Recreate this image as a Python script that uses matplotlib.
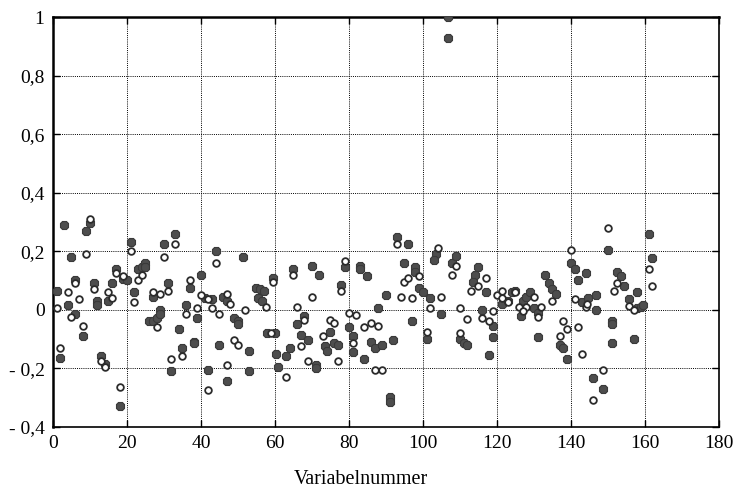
import matplotlib.pyplot as plt
from matplotlib.ticker import FixedLocator

# Variablennummer und Wert, gefüllte Marker
stern_x = [1, 2, 3, 4, 5, 6, 6, 8, 9, 10, 11, 12, 12, 13, 14, 15, 16, 17, 18, 19,
           20, 21, 22, 23, 24, 25, 25, 26, 27, 27, 28, 29, 29, 30, 31, 32, 33, 34, 35, 36,
           37, 38, 38, 39, 40, 41, 42, 43, 44, 45, 46, 47, 47, 49, 50, 50, 51.5, 53, 53, 55,
           56, 57, 55.5, 56.5, 58, 60, 59.5, 60.3, 60.8, 63, 64, 65, 66, 67, 68, 69, 70, 71, 71, 72,
           73.5, 74, 75, 76, 77, 78, 79, 80, 81, 81, 83, 83, 85, 84, 86, 87, 88, 89, 90, 91,
           91, 92, 93, 95, 96, 97, 98, 98, 99, 100, 101, 102, 103.5, 103, 105, 106.8, 106.8, 108, 109, 110,
           111, 112, 115, 114, 113.5, 117, 116, 119, 119, 118, 121.5, 123, 124, 125, 127, 128, 129, 126.5, 130, 131,
           131, 133, 134, 135, 136, 137, 138, 139, 140, 141, 142, 144, 143, 144.7, 146.7, 146.7, 146, 148.6, 150, 151,
           151, 151, 152.5, 153.5, 154.5, 155.7, 158, 159, 159.5, 157, 158, 161, 162]
stern_y = [0.065, -0.165, 0.29, 0.015, 0.18, -0.015, 0.10, -0.09, 0.27, 0.295, 0.09, 0.03, 0.015, -0.16, -0.185, 0.03, 0.09, 0.14, -0.33, 0.105,
           0.10, 0.23, 0.06, 0.14, 0.145, 0.16, 0.145, -0.04, -0.04, 0.045, -0.03, 0.0, -0.015, 0.225, 0.09, -0.21, 0.26, -0.065, -0.13, 0.015,
           0.075, -0.11, -0.115, -0.03, 0.12, 0.04, -0.205, 0.035, 0.20, -0.12, 0.045, 0.03, -0.245, -0.03, -0.04, -0.05, 0.18, -0.14, -0.21, 0.075,
           0.07, 0.065, 0.04, 0.03, -0.08, -0.08, 0.11, -0.15, -0.195, -0.16, -0.13, 0.14, -0.05, -0.085, -0.02, -0.105, 0.15, -0.19, -0.20, 0.12,
           -0.125, -0.14, -0.075, -0.115, -0.12, 0.085, 0.145, -0.06, -0.09, -0.145, 0.15, 0.14, 0.115, -0.17, -0.11, -0.13, 0.005, -0.12, 0.05, -0.30,
           -0.315, -0.105, 0.25, 0.16, 0.225, -0.04, 0.145, 0.13, 0.075, 0.06, -0.10, 0.04, 0.19, 0.17, -0.015, 1.0, 0.93, 0.16, 0.185, -0.10,
           -0.115, -0.12, 0.145, 0.12, 0.095, 0.06, 0.0, -0.055, -0.095, -0.155, 0.02, 0.03, 0.06, 0.065, 0.03, 0.045, 0.06, -0.02, 0.005, -0.01,
           -0.095, 0.12, 0.09, 0.07, 0.055, -0.12, -0.13, -0.17, 0.16, 0.14, 0.10, 0.125, 0.025, 0.04, 0.05, 0.0, -0.235, -0.27, 0.205, -0.04,
           -0.05, -0.115, 0.13, 0.115, 0.08, 0.035, 0.005, 0.01, 0.015, -0.10, 0.06, 0.26, 0.175]

# Variablennummer und Wert, offene Kreise
kreis_x = [1, 2, 4, 5, 6, 7, 8, 9, 10, 11, 13, 14, 15, 16, 17, 18, 19, 21, 22, 23,
           24, 27, 28, 29, 30, 31, 32, 33, 35, 36, 37, 39, 40, 42, 43, 42, 44, 45, 47, 48,
           47, 49, 50, 52, 57.5, 59, 59.5, 63, 65, 66, 67, 68, 69, 70, 73, 75, 76, 77, 78, 79,
           80, 82, 81, 84, 86, 87, 89, 88, 93, 94, 95, 96, 97, 99, 101, 102, 104, 105, 108, 109,
           110, 110, 112, 113, 115, 117, 116, 118, 119, 120, 121.5, 121.5, 123, 125, 126, 128, 130, 127, 132, 131,
           135, 138, 139, 137, 140, 141, 144, 144.5, 142, 143, 146, 148.6, 150, 151.6, 152.5, 155.7, 157, 161, 162]
kreis_y = [0.005, -0.13, 0.06, -0.025, 0.09, 0.035, -0.055, 0.19, 0.31, 0.07, -0.175, -0.195, 0.06, 0.04, 0.125, -0.265, 0.115, 0.20, 0.025, 0.10,
           0.12, 0.06, -0.06, 0.055, 0.18, 0.065, -0.17, 0.225, -0.16, -0.015, 0.10, 0.005, 0.05, 0.035, 0.005, -0.275, 0.16, -0.015, 0.055, 0.02,
           -0.19, -0.105, -0.12, 0.0, 0.01, -0.08, 0.095, -0.23, 0.12, 0.01, -0.125, -0.035, -0.175, 0.045, -0.09, -0.035, -0.045, -0.175, 0.065, 0.165,
           -0.013, -0.017, -0.115, -0.06, -0.047, -0.205, -0.205, -0.055, 0.225, 0.045, 0.095, 0.107, 0.04, 0.115, -0.075, 0.005, 0.21, 0.045, 0.12, 0.15,
           0.005, -0.08, -0.033, 0.063, 0.08, 0.11, -0.03, -0.04, -0.003, 0.05, 0.065, 0.04, 0.025, 0.06, 0.01, 0.01, 0.045, -0.005, 0.01, -0.025,
           0.03, -0.04, -0.065, -0.09, 0.205, 0.035, 0.01, 0.02, -0.06, -0.15, -0.31, -0.205, 0.28, 0.065, 0.09, 0.012, 0.0, 0.14, 0.08]

x_ticks = [0, 20, 40, 60, 80, 100, 120, 140, 160, 180]
y_ticks = [-0.4, -0.2, 0, 0.2, 0.4, 0.6, 0.8, 1]
y_labels = ['- 0,4', '- 0,2', '0', '0,2', '0,4', '0,6', '0,8', '1']

plt.rcParams['font.family'] = ['Liberation Serif', 'DejaVu Serif']

fig = plt.figure(figsize=(7.35, 4.91), dpi=100)
ax = fig.add_axes([0.072, 0.131, 0.906, 0.834])

ax.plot(stern_x, stern_y, linestyle='none', marker='8', ms=6.4,
        mfc='#4d4d4d', mec='#3a3a3a', mew=0.8, zorder=3)
ax.plot(kreis_x, kreis_y, linestyle='none', marker='o', ms=4.8,
        mfc='white', mec='#2b2b2b', mew=1.3, zorder=4)

ax.set_xlim(0, 180)
ax.set_ylim(-0.4, 1)
ax.xaxis.set_major_locator(FixedLocator(x_ticks))
ax.set_yticks(y_ticks)
ax.set_yticklabels(y_labels)
ax.grid(True, color='black', linestyle=(0, (1, 1.2)), linewidth=0.7)
ax.set_axisbelow(True)

ax.tick_params(direction='in', length=5, width=1, labelsize=14,
               top=True, right=True, colors='black', pad=6)
for side in ['left', 'top']:
    ax.spines[side].set_linewidth(1.8)
for side in ['right', 'bottom']:
    ax.spines[side].set_linewidth(1.2)

ax.set_xlabel('Variabelnummer', fontsize=14.5)
ax.xaxis.set_label_coords(0.462, -0.105)

fig.savefig('out.png', dpi=100)
